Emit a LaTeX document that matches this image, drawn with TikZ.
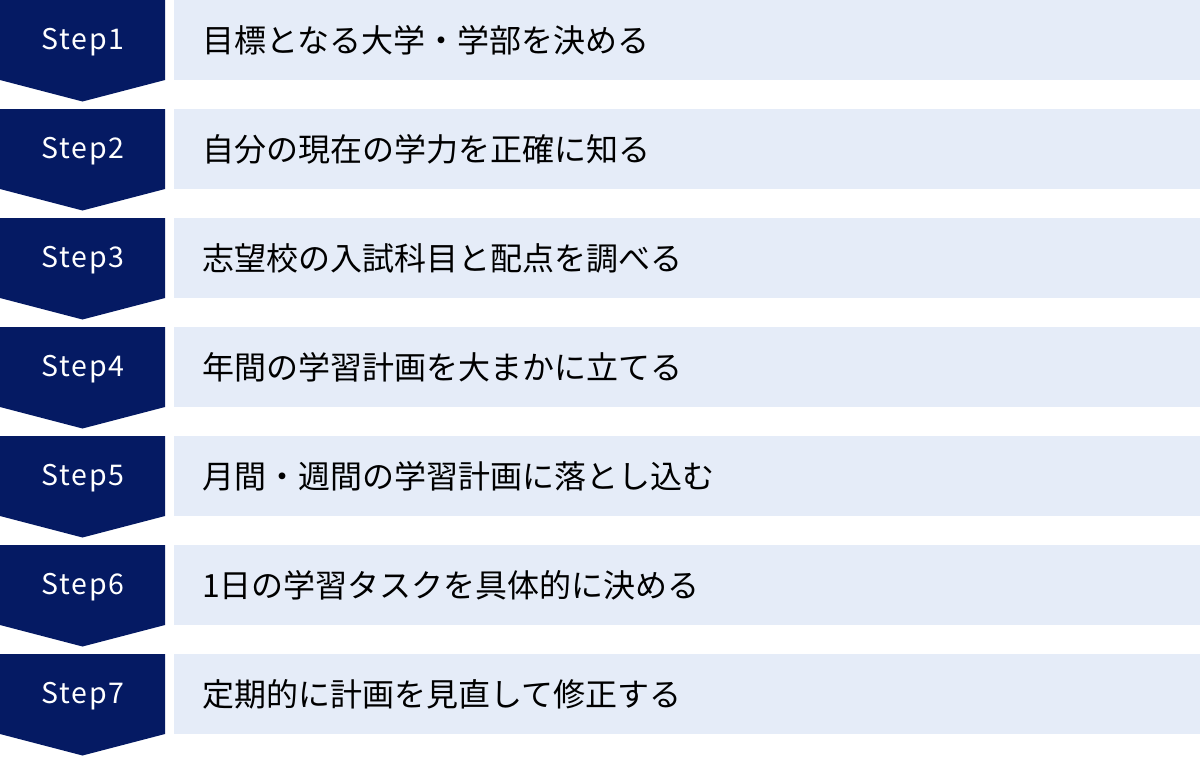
\documentclass[tikz,border=0pt]{standalone}
\usepackage{fontspec}
\newfontfamily\jpfont{Noto Sans CJK JP}
\newfontfamily\stepfont[LetterSpace=6]{Noto Sans CJK JP}
\definecolor{navy}{HTML}{051A63}
\definecolor{pale}{HTML}{E5ECF8}
\begin{document}
\begin{tikzpicture}[x=1pt,y=-1pt,
  steplabel/.style={text=white,font=\stepfont\fontsize{28.5}{28.5}\selectfont,inner sep=0pt,anchor=center},
  tasklabel/.style={text=black,font=\jpfont\fontsize{32}{32}\selectfont,inner sep=0pt,anchor=west},
  taskbox/.style={fill=pale,draw=none},
  arrowshape/.style={fill=navy,draw=none}]
\useasboundingbox (0,0) rectangle (1200,756);
\foreach \i/\t in {1/目標となる大学・学部を決める,
                   2/自分の現在の学力を正確に知る,
                   3/志望校の入試科目と配点を調べる,
                   4/年間の学習計画を大まかに立てる,
                   5/月間・週間の学習計画に落とし込む,
                   6/1日の学習タスクを具体的に決める,
                   7/定期的に計画を見直して修正する}{
  \pgfmathsetmacro\tp{(\i-1)*109}
  \fill[arrowshape] (0,\tp) -- (165,\tp) -- (165,\tp+80) -- (82.5,\tp+101.5) -- (0,\tp+80) -- cycle;
  \fill[taskbox] (174,\tp) rectangle (1200,\tp+80);
  \node[steplabel] (step\i) at (83,\tp+42.5) {Step\i};
  \node[tasklabel] (task\i) at (202,\tp+40.5) {\t};
}
\end{tikzpicture}
\end{document}
